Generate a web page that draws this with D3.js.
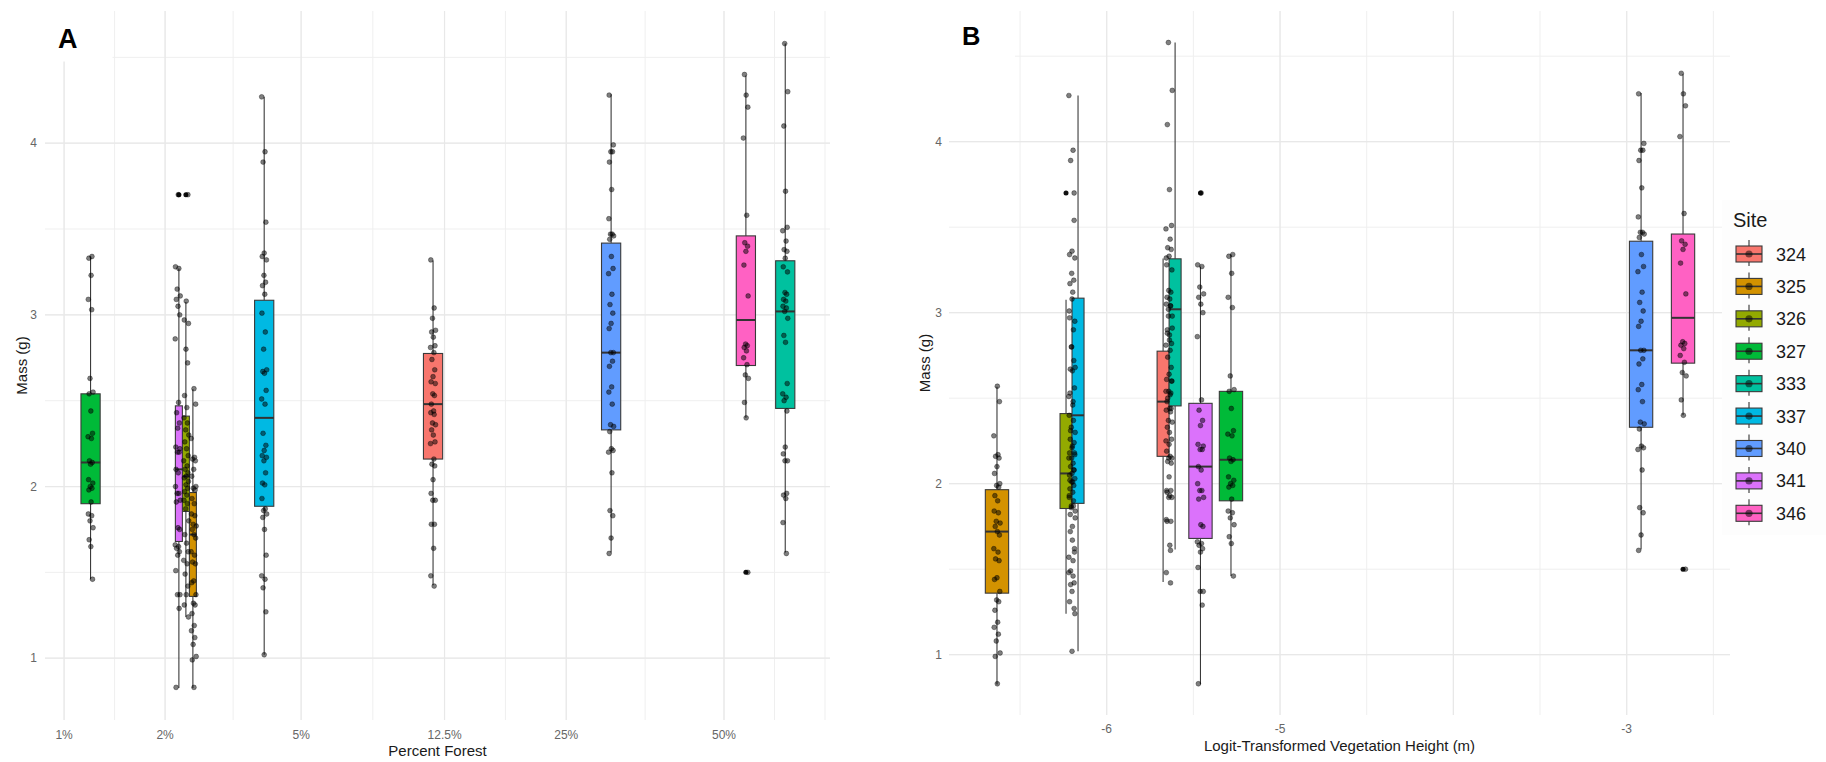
<!DOCTYPE html>
<html lang="en">
<head>
<meta charset="UTF-8">
<title>Mass by site</title>
<style>
  body { margin: 0; background: #fff; }
  svg { display: block; font-family: "Liberation Sans", Arial, sans-serif; }
</style>
</head>
<body>
<svg id="chart"></svg>
<script src="https://cdn.jsdelivr.net/npm/d3@7"></script>
<script>

// sites and ggplot hue colours
var sites = ["324", "325", "326", "327", "333", "337", "340", "341", "346"];
var colors = ["#F8766D", "#D39200", "#93AA00", "#00BA38", "#00C19F", "#00B9E3", "#619CFF", "#DB72FB", "#FF61C3"];

// x value of each site in the two panels
var forestPct = [11.65, 2.43, 2.31, 1.2, 60.5, 3.91, 31.3, 2.18, 53.8];
var vegHeight = [-5.64, -6.633, -6.2, -5.283, -5.64, -6.2, -2.917, -5.459, -2.675];

// boxplot stats per site
var q1      = [2.16, 1.36, 1.855, 1.90, 2.455, 1.885, 2.33, 1.68, 2.705];
var median  = [2.48, 1.72, 2.06, 2.14, 3.02, 2.40, 2.78, 2.10, 2.97];
var q3      = [2.775, 1.965, 2.41, 2.54, 3.315, 3.085, 3.418, 2.47, 3.46];
var whiskLo = [1.425, 0.826, 1.24, 1.46, 1.615, 1.02, 1.615, 0.826, 2.40];
var whiskHi = [3.317, 2.567, 3.075, 3.34, 4.58, 4.27, 4.285, 3.27, 4.395];
var outliers = [[], [], [3.70], [], [], [], [], [3.70], [1.50]];

// individual masses (g)
var mass324 = [3.32, 3.04, 2.98, 2.91, 2.90, 2.87, 2.82, 2.81, 2.78, 2.74, 2.68, 2.64, 2.61, 2.60, 2.54, 2.53, 2.48, 2.44, 2.43, 2.42, 2.37, 2.36, 2.33, 2.30, 2.26, 2.25, 2.16, 2.13, 2.12, 2.04, 1.96, 1.92, 1.92, 1.78, 1.78, 1.64, 1.48, 1.42];
var mass325 = [2.57, 2.48, 2.28, 2.17, 2.16, 2.15, 2.10, 2.06, 2.00, 1.99, 1.98, 1.93, 1.90, 1.84, 1.83, 1.78, 1.77, 1.75, 1.72, 1.70, 1.62, 1.60, 1.56, 1.55, 1.45, 1.44, 1.37, 1.32, 1.31, 1.26, 1.19, 1.16, 1.12, 1.08, 1.01, 0.99, 0.83];
var mass326 = [3.70, 3.08, 2.97, 2.95, 2.80, 2.72, 2.53, 2.46, 2.40, 2.37, 2.33, 2.30, 2.26, 2.22, 2.18, 2.15, 2.12, 2.10, 2.08, 2.06, 2.05, 2.03, 2.01, 1.99, 1.97, 1.95, 1.92, 1.90, 1.87, 1.80, 1.72, 1.67, 1.62, 1.57, 1.55, 1.49, 1.42, 1.37, 1.31, 1.24];
var mass327 = [3.34, 3.33, 3.23, 3.09, 3.03, 2.63, 2.55, 2.54, 2.44, 2.31, 2.29, 2.28, 2.15, 2.14, 2.13, 2.04, 2.02, 2.00, 1.99, 1.98, 1.91, 1.84, 1.83, 1.80, 1.76, 1.69, 1.65, 1.46];
var mass333 = [4.58, 4.30, 4.10, 3.72, 3.51, 3.49, 3.43, 3.38, 3.37, 3.33, 3.28, 3.25, 3.13, 3.12, 3.09, 3.08, 3.05, 3.04, 3.02, 2.98, 2.88, 2.84, 2.60, 2.54, 2.52, 2.50, 2.44, 2.23, 2.19, 2.15, 2.15, 1.96, 1.95, 1.93, 1.79, 1.61];
var mass337 = [4.27, 3.95, 3.89, 3.54, 3.36, 3.34, 3.32, 3.23, 3.19, 3.17, 3.12, 3.01, 2.90, 2.80, 2.68, 2.67, 2.66, 2.56, 2.51, 2.48, 2.31, 2.24, 2.21, 2.18, 2.17, 2.15, 2.08, 2.02, 2.01, 1.93, 1.87, 1.86, 1.84, 1.82, 1.75, 1.60, 1.48, 1.46, 1.41, 1.27, 1.02];
var mass340 = [4.28, 3.99, 3.95, 3.95, 3.89, 3.73, 3.56, 3.47, 3.47, 3.46, 3.44, 3.34, 3.27, 3.24, 3.12, 3.06, 3.01, 2.95, 2.92, 2.78, 2.78, 2.73, 2.70, 2.58, 2.55, 2.48, 2.36, 2.35, 2.32, 2.22, 2.21, 2.20, 2.08, 1.86, 1.83, 1.70, 1.61];
var mass341 = [3.70, 3.28, 3.27, 3.15, 3.11, 3.09, 3.05, 3.00, 2.86, 2.49, 2.43, 2.37, 2.34, 2.23, 2.22, 2.20, 2.20, 2.10, 2.08, 2.00, 1.96, 1.96, 1.92, 1.91, 1.76, 1.75, 1.66, 1.65, 1.64, 1.62, 1.60, 1.51, 1.37, 1.37, 1.29, 0.83];
var mass346 = [4.40, 4.28, 4.21, 4.03, 3.58, 3.42, 3.40, 3.37, 3.29, 3.11, 2.83, 2.82, 2.81, 2.79, 2.75, 2.71, 2.65, 2.63, 2.49, 2.40, 1.50];
var masses = [mass324, mass325, mass326, mass327, mass333, mass337, mass340, mass341, mass346];

// ticks
var yTicks = [1, 2, 3, 4];
var forestTicks = [1, 2, 5, 12.5, 25, 50];
var vegTicks = [-6, -5, -3];
var vegGrid = [-6, -5, -4, -3];

// fixed horizontal jitter pattern (fraction of jitter width)
var jit = [-0.8, 0.4, -0.2, 0.9, -0.5, 0.1, 0.7, -0.9, 0.3, -0.4, 0.6, 0, -0.7, 0.8, -0.1, 0.5, -0.6, 0.2];

var W = 1826, H = 762;
var svg = d3.select("#chart").attr("width", W).attr("height", H);

function logit(p) { return Math.log(p / (1 - p)); }

// ggplot style minor breaks: midpoints, plus one extra step past each end
function minorBreaks(b, dom) {
    var bd = b[1] - b[0], bb = b.slice();
    if (dom[0] < bb[0]) bb.unshift(bb[0] - bd);
    if (dom[1] > bb[bb.length - 1]) bb.push(bb[bb.length - 1] + bd);
    var out = [];
    for (var i = 0; i < bb.length; i++) {
        out.push(bb[i]);
        if (i < bb.length - 1) out.push((bb[i] + bb[i + 1]) / 2);
    }
    return out.filter(function(v) { return v >= dom[0] && v <= dom[1]; });
}

var panels = [
    {
        label: "A", labelX: 58, labelY: 48, labelSize: 27,
        cover: [40, 0, 72.5, 61.5],
        xv: forestPct.map(function(p) { return logit(p / 100); }),
        xDomain: [-4.728, 0.738], xRange: [45, 830],
        yDomain: [0.64, 4.77], yRange: [720, 11],
        xTicks: forestTicks.map(function(p) { return logit(p / 100); }),
        xTickLabels: forestTicks.map(function(p) { return p + "%"; }),
        xGrid: forestTicks.map(function(p) { return logit(p / 100); }),
        tickY: 739, yLabX: 37, yTitleX: 26.5,
        xTitle: "Percent Forest", xTitleY: 756,
        boxW: 19.2, dodgeW: 21, jitterW: 2.8
    },
    {
        label: "B", labelX: 962, labelY: 45, labelSize: 25.5,
        cover: [940, 0, 75, 60],
        xv: vegHeight.slice(),
        xDomain: [-6.9098, -2.404], xRange: [949, 1730],
        yDomain: [0.6474, 4.7643], yRange: [715, 11],
        xTicks: vegTicks, xTickLabels: vegTicks.map(function(v) { return String(v); }),
        xGrid: vegGrid,
        tickY: 733, yLabX: 942, yTitleX: 930,
        xTitle: "Logit-Transformed Vegetation Height (m)", xTitleY: 751,
        boxW: 23.3, dodgeW: 24, jitterW: 3.5
    }
];

panels.forEach(function(P) {
    var x = d3.scaleLinear().domain(P.xDomain).range(P.xRange);
    var y = d3.scaleLinear().domain(P.yDomain).range(P.yRange);
    var g = svg.append("g");

    // grid
    var xMinor = minorBreaks(P.xGrid, P.xDomain);
    var yMinor = minorBreaks(yTicks, P.yDomain);
    g.selectAll(".vminor").data(xMinor).enter().append("line")
        .attr("x1", function(d) { return x(d); }).attr("x2", function(d) { return x(d); })
        .attr("y1", P.yRange[1]).attr("y2", P.yRange[0])
        .attr("stroke", "#efefef").attr("stroke-width", 1);
    g.selectAll(".hminor").data(yMinor).enter().append("line")
        .attr("y1", function(d) { return y(d); }).attr("y2", function(d) { return y(d); })
        .attr("x1", P.xRange[0]).attr("x2", P.xRange[1])
        .attr("stroke", "#efefef").attr("stroke-width", 1);
    g.selectAll(".vmajor").data(P.xGrid).enter().append("line")
        .attr("x1", function(d) { return x(d); }).attr("x2", function(d) { return x(d); })
        .attr("y1", P.yRange[1]).attr("y2", P.yRange[0])
        .attr("stroke", "#e8e8e8").attr("stroke-width", 1.2);
    g.selectAll(".hmajor").data(yTicks).enter().append("line")
        .attr("y1", function(d) { return y(d); }).attr("y2", function(d) { return y(d); })
        .attr("x1", P.xRange[0]).attr("x2", P.xRange[1])
        .attr("stroke", "#e8e8e8").attr("stroke-width", 1.2);

    // tick labels
    g.selectAll(".xt").data(P.xTicks).enter().append("text")
        .attr("x", function(d) { return x(d); }).attr("y", P.tickY)
        .attr("text-anchor", "middle").attr("font-size", 12).attr("fill", "#666")
        .text(function(d, i) { return P.xTickLabels[i]; });
    g.selectAll(".yt").data(yTicks).enter().append("text")
        .attr("x", P.yLabX).attr("y", function(d) { return y(d) + 4.3; })
        .attr("text-anchor", "end").attr("font-size", 12).attr("fill", "#666")
        .text(function(d) { return d; });

    // axis titles
    g.append("text").attr("x", (P.xRange[0] + P.xRange[1]) / 2).attr("y", P.xTitleY)
        .attr("text-anchor", "middle").attr("font-size", 15).attr("fill", "#1a1a1a")
        .text(P.xTitle);
    g.append("text")
        .attr("transform", "translate(" + P.yTitleX + "," + ((P.yRange[0] + P.yRange[1]) / 2) + ") rotate(-90)")
        .attr("text-anchor", "middle").attr("font-size", 15).attr("fill", "#1a1a1a")
        .text("Mass (g)");

    // dodge overlapping boxes
    var px = P.xv.map(function(v) { return x(v); });
    var order = d3.range(sites.length).sort(function(a, b) { return px[a] - px[b] || a - b; });
    var cx = [], bw = [];
    var groups = [], cur = [order[0]];
    for (var k = 1; k < order.length; k++) {
        if (px[order[k]] - px[cur[cur.length - 1]] < P.boxW) cur.push(order[k]);
        else { groups.push(cur); cur = [order[k]]; }
    }
    groups.push(cur);
    groups.forEach(function(grp) {
        if (grp.length === 1) { cx[grp[0]] = px[grp[0]]; bw[grp[0]] = P.boxW; return; }
        var c = d3.mean(grp, function(i) { return px[i]; }), w = P.dodgeW / grp.length;
        grp.forEach(function(i, j) { cx[i] = c - P.dodgeW / 2 + w * (j + 0.5); bw[i] = w; });
    });

    var idx = d3.range(sites.length);
    // whiskers
    g.selectAll(".wh").data(idx).enter().append("line")
        .attr("x1", function(i) { return cx[i]; }).attr("x2", function(i) { return cx[i]; })
        .attr("y1", function(i) { return y(whiskHi[i]); }).attr("y2", function(i) { return y(q3[i]); })
        .attr("stroke", "#3a3a3a").attr("stroke-width", 1.1);
    g.selectAll(".wl").data(idx).enter().append("line")
        .attr("x1", function(i) { return cx[i]; }).attr("x2", function(i) { return cx[i]; })
        .attr("y1", function(i) { return y(q1[i]); }).attr("y2", function(i) { return y(whiskLo[i]); })
        .attr("stroke", "#3a3a3a").attr("stroke-width", 1.1);
    // boxes
    g.selectAll(".box").data(idx).enter().append("rect")
        .attr("x", function(i) { return cx[i] - bw[i] / 2; })
        .attr("width", function(i) { return bw[i]; })
        .attr("y", function(i) { return y(q3[i]); })
        .attr("height", function(i) { return y(q1[i]) - y(q3[i]); })
        .attr("fill", function(i) { return colors[i]; })
        .attr("stroke", "#3a3a3a").attr("stroke-width", 1.1);
    g.selectAll(".med").data(idx).enter().append("line")
        .attr("x1", function(i) { return cx[i] - bw[i] / 2; }).attr("x2", function(i) { return cx[i] + bw[i] / 2; })
        .attr("y1", function(i) { return y(median[i]); }).attr("y2", function(i) { return y(median[i]); })
        .attr("stroke", "#333").attr("stroke-width", 2);
    // outliers
    var outs = [];
    idx.forEach(function(i) { outliers[i].forEach(function(v) { outs.push({ i: i, v: v }); }); });
    g.selectAll(".out").data(outs).enter().append("circle")
        .attr("cx", function(d) { return cx[d.i]; }).attr("cy", function(d) { return y(d.v); })
        .attr("r", 2.5).attr("fill", "#111");

    // jittered points
    var pts = [];
    idx.forEach(function(i) { masses[i].forEach(function(v, j) { pts.push({ i: i, v: v, j: j }); }); });
    g.selectAll(".pt").data(pts).enter().append("circle")
        .attr("cx", function(d) { return px[d.i] + jit[(d.j + d.i * 5) % jit.length] * P.jitterW; })
        .attr("cy", function(d) { return y(d.v); })
        .attr("r", 2.4)
        .attr("fill", "#000").attr("fill-opacity", 0.5)
        .attr("stroke", "#000").attr("stroke-opacity", 0.45).attr("stroke-width", 0.8);

    // white box behind the panel letter
    g.append("rect").attr("x", P.cover[0]).attr("y", P.cover[1])
        .attr("width", P.cover[2]).attr("height", P.cover[3]).attr("fill", "#fff");
    g.append("text").attr("x", P.labelX).attr("y", P.labelY)
        .attr("font-size", P.labelSize).attr("font-weight", "bold").attr("fill", "#000")
        .text(P.label);
});

// legend
var leg = svg.append("g");
leg.append("rect").attr("x", 1722).attr("y", 200).attr("width", 104).attr("height", 335).attr("fill", "#fdfdfd");
leg.append("text").attr("x", 1733).attr("y", 227).attr("font-size", 20).attr("fill", "#1a1a1a").text("Site");
var ky = d3.scaleLinear().domain([0, sites.length - 1]).range([254, 513.3]);
var keys = leg.selectAll(".key").data(sites).enter().append("g")
    .attr("transform", function(d, i) { return "translate(1736," + ky(i) + ")"; });
keys.append("line").attr("x1", 13).attr("x2", 13).attr("y1", -14).attr("y2", 12)
    .attr("stroke", "#333").attr("stroke-width", 1.1);
keys.append("rect").attr("x", 0).attr("y", -8).attr("width", 26).attr("height", 16)
    .attr("fill", function(d, i) { return colors[i]; }).attr("stroke", "#3a3a3a").attr("stroke-width", 1.1);
keys.append("line").attr("x1", 0).attr("x2", 26).attr("y1", 0).attr("y2", 0)
    .attr("stroke", "#333").attr("stroke-width", 1.6);
keys.append("circle").attr("cx", 13).attr("cy", 0).attr("r", 3.6)
    .attr("fill", "#000").attr("fill-opacity", 0.5);
keys.append("text").attr("x", 40).attr("y", 6.5).attr("font-size", 18).attr("fill", "#1a1a1a")
    .text(function(d) { return d; });

</script>
</body>
</html>
